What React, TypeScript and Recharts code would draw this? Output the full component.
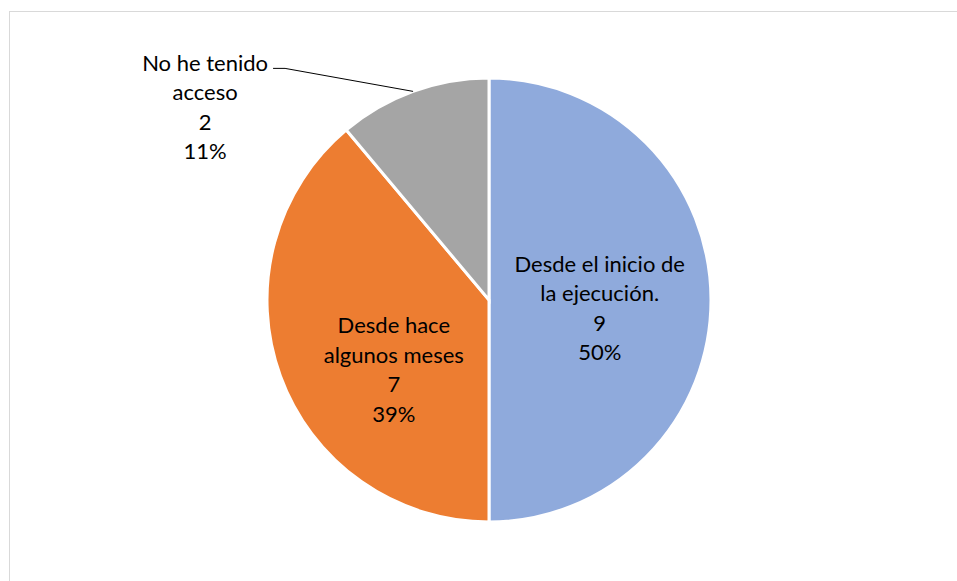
import { PieChart, Pie, Cell } from "recharts";

const categories = [
  "Desde el inicio de la ejecución.",
  "Desde hace algunos meses",
  "No he tenido acceso",
];
const labelLines = [
  ["Desde el inicio de", "la ejecución."],
  ["Desde hace", "algunos meses"],
  ["No he tenido", "acceso"],
];
const counts = [9, 7, 2];
const colors = ["#8FAADC", "#ED7D31", "#A5A5A5"];

const data = categories.map((name, i) => ({ name, value: counts[i] }));

const RADIAN = Math.PI / 180;
const FONT = "Lato, 'Open Sans', sans-serif";
const FONT_SIZE = 22;
const LINE_H = 29.5;

function renderLabel(props: any) {
  const { cx, cy, midAngle, outerRadius, percent, value, index } = props;
  const lines = [...labelLines[index], String(value), `${Math.round(percent * 100)}%`];
  const cos = Math.cos(-midAngle * RADIAN);
  const sin = Math.sin(-midAngle * RADIAN);

  if (index === 2) {
    // outside label with leader line
    const ox = cx + outerRadius * cos;
    const oy = cy + outerRadius * sin;
    const ex = ox - 128;
    const ey = oy - 23;
    const tx = ex - 80;
    return (
      <g>
        <polyline
          points={`${ox},${oy} ${ex},${ey} ${ex - 12},${ey}`}
          fill="none"
          stroke="#000"
          strokeWidth={1}
        />
        {lines.map((l, i) => (
          <text
            key={i}
            x={tx}
            y={ey - 6 + i * LINE_H}
            textAnchor="middle"
            dominantBaseline="central"
            fill="#000"
            fontSize={FONT_SIZE}
            fontFamily={FONT}
          >
            {l}
          </text>
        ))}
      </g>
    );
  }

  // inside labels
  const r = index === 0 ? outerRadius * 0.5 : outerRadius * 0.53;
  const ang = index === 0 ? midAngle - 4 : midAngle + 16;
  const x = cx + r * Math.cos(-ang * RADIAN);
  const y = cy + r * Math.sin(-ang * RADIAN);
  const top = y - ((lines.length - 1) * LINE_H) / 2;
  return (
    <g>
      {lines.map((l, i) => (
        <text
          key={i}
          x={x}
          y={top + i * LINE_H}
          textAnchor="middle"
          dominantBaseline="central"
          fill="#000"
          fontSize={FONT_SIZE}
          fontFamily={FONT}
        >
          {l}
        </text>
      ))}
    </g>
  );
}

export default function App() {
  return (
    <div
      style={{
        position: "absolute",
        left: 0,
        top: 0,
        width: 957,
        height: 581,
        background: "#fff",
        overflow: "hidden",
      }}
    >
      <div
        style={{
          position: "absolute",
          left: 9,
          top: 11,
          width: 970,
          height: 600,
          border: "1.5px solid #d9d9d9",
        }}
      />
      <div style={{ position: "absolute", left: 0, top: 0 }}>
        <PieChart
          width={957}
          height={581}
          margin={{ top: 0, right: 0, bottom: 0, left: 0 }}
        >
          <Pie
            data={data}
            dataKey="value"
            nameKey="name"
            cx={489}
            cy={300}
            outerRadius={222}
            startAngle={90}
            endAngle={-270}
            stroke="#fff"
            strokeWidth={3}
            label={renderLabel}
            labelLine={false}
            isAnimationActive={false}
          >
            {data.map((d, i) => (
              <Cell key={d.name} fill={colors[i]} />
            ))}
          </Pie>
        </PieChart>
      </div>
    </div>
  );
}
